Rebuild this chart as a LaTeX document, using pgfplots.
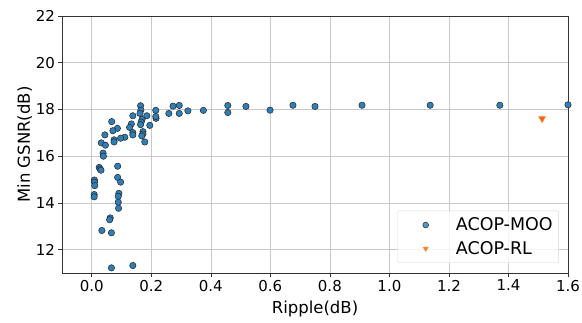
\documentclass[border=0pt]{standalone}
\usepackage{fontspec}
\setmainfont{DejaVu Sans}
\usepackage{pgfplots}
\pgfplotsset{compat=1.18}

\definecolor{moofill}{HTML}{2E7EB8}
\definecolor{rlfill}{HTML}{FF5A1F}
\definecolor{rledge}{HTML}{FF8C1A}
\definecolor{gridgray}{HTML}{C8C8C8}

\begin{document}
\begin{tikzpicture}
\begin{axis}[
  name=ax,
  scale only axis,
  width=506pt, height=257pt,
  xmin=-0.1, xmax=1.6,
  ymin=11, ymax=22,
  xtick={0,0.2,...,1.6},
  ytick={12,14,...,22},
  xticklabel style={/pgf/number format/.cd, fixed, fixed zerofill, precision=1},
  /pgf/number format/assume math mode=true,
  tick label style={font=\fontsize{15}{17}\selectfont},
  label style={font=\fontsize{16.5}{19}\selectfont},
  xlabel={Ripple(dB)},
  ylabel={Min GSNR(dB)},
  xlabel style={yshift=-3pt},
  ylabel style={yshift=-3pt},
  tick align=outside,
  tick pos=left,
  major tick length=3.5pt,
  every tick/.style={black!80, line width=0.6pt},
  axis line style={black!80, line width=0.6pt},
  grid=major,
  major grid style={gridgray, line width=0.6pt},
  clip=true,
  legend style={
    at={(0.982,0.039)}, anchor=south east,
    font=\fontsize{17.5}{20}\selectfont,
    draw=black!15, rounded corners=2pt,
    fill=white, fill opacity=0.8, text opacity=1,
    inner xsep=4pt, inner ysep=5pt,
    row sep=5pt,
    cells={anchor=west},
  },
  legend image code/.code={
    \path (0pt,0pt) (52pt,0pt);
    \draw[#1, mark size=2.9pt] plot coordinates {(24pt,0pt)};
  },
]
% Pareto set of the multi-objective optimiser
\addplot[only marks, mark=*, mark size=3.2pt,
  mark options={fill=moofill, draw=black!85, line width=0.5pt}]
  coordinates {
  (0.457,18.17) (0.457,17.87) (0.375,17.96) (0.323,17.94)
  (0.294,18.17) (0.294,17.83) (0.273,18.14) (0.259,17.83)
  (0.215,17.96) (0.216,17.62) (0.215,17.70) (0.195,17.32)
  (0.185,17.73) (0.164,18.16) (0.165,17.97) (0.162,17.83)
  (0.169,17.57) (0.166,17.46) (0.164,17.35) (0.172,17.05)
  (0.172,16.95) (0.168,16.87) (0.178,16.61) (0.138,17.73)
  (0.133,17.38) (0.127,17.23) (0.138,17.01) (0.138,16.91)
  (0.111,16.81) (0.097,16.77) (0.086,17.19) (0.071,17.09)
  (0.067,17.48) (0.075,16.70) (0.075,16.61) (0.044,16.91)
  (0.032,16.57) (0.046,16.47) (0.038,16.13) (0.039,16.00)
  (0.025,15.52) (0.028,15.45) (0.031,15.40) (0.009,14.98)
  (0.009,14.89) (0.010,14.74) (0.008,14.36) (0.008,14.26)
  (0.087,15.57) (0.087,15.09) (0.097,14.89) (0.091,14.41)
  (0.089,14.28) (0.089,14.03) (0.090,13.77) (0.062,13.36)
  (0.060,13.28) (0.034,12.82) (0.066,12.72) (0.066,11.22)
  (0.138,11.32)
  (0.518,18.13) (0.599,17.97) (0.676,18.18) (0.750,18.13)
  (0.908,18.18) (1.137,18.18) (1.371,18.18) (1.600,18.20)
  };
\addlegendentry{ACOP-MOO}
% Solution found by the RL agent
\addplot[only marks, mark=triangle*, mark size=4pt,
  mark options={rotate=180, fill=rlfill, draw=rledge, line width=0.5pt}]
  coordinates {(1.513,17.61)};
\addlegendentry{ACOP-RL}
\end{axis}
\pgfresetboundingbox
\path ([shift={(-62pt,-49pt)}]ax.south west) rectangle ([shift={(14pt,16pt)}]ax.north east);
\end{tikzpicture}
\end{document}
